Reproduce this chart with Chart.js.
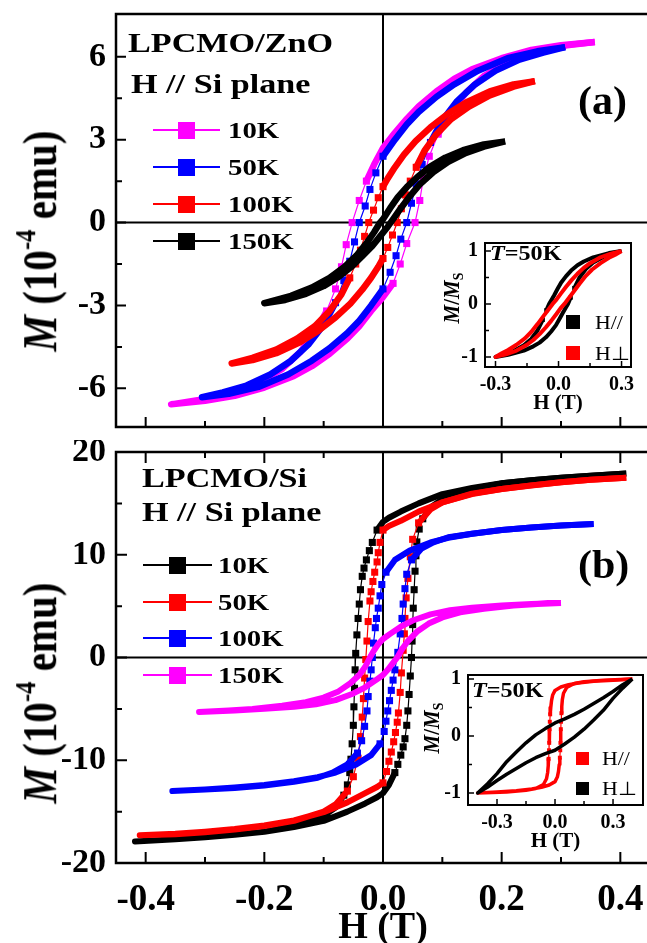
<!DOCTYPE html>
<html><head><meta charset="utf-8">
<script src="https://cdn.jsdelivr.net/npm/chart.js@4.4.0/dist/chart.umd.min.js"></script>
<style>
html,body{margin:0;padding:0;background:#fff;overflow:hidden;width:647px;height:943px;}
#wrap{position:relative;width:647px;height:943px;overflow:hidden;font-family:'Liberation Serif','Times New Roman',serif;}
canvas{position:absolute;}
.t{position:absolute;white-space:nowrap;color:#000;line-height:1;}
.ln{position:absolute;height:2px;}
.sq{position:absolute;}
</style></head><body><div id="wrap">
<canvas id="cA" width="660" height="440" style="left:0;top:0;width:660px;height:440px"></canvas>
<canvas id="cB" width="660" height="520" style="left:0;top:440px;width:660px;height:520px"></canvas>
<canvas id="cI1" width="210" height="190" style="left:430px;top:233px;width:210px;height:190px"></canvas>
<canvas id="cI2" width="240" height="198" style="left:410px;top:662px;width:240px;height:198px"></canvas>
</div>
<script>
// ---------- tick values ----------
const X_TICKS_MAIN = [-0.4,-0.3,-0.2,-0.1,0,0.1,0.2,0.3,0.4];
const X_LABELS_MAIN = [-0.4,-0.2,0,0.2,0.4];
const Y_TICKS_A = [-6,-4.5,-3,-1.5,0,1.5,3,4.5,6];
const Y_LABELS_A = [-6,-3,0,3,6];
const Y_TICKS_B = [-20,-15,-10,-5,0,5,10,15,20];
const Y_LABELS_B = [-20,-10,0,10,20];
const X_TICKS_INSET = [-0.3,-0.15,0,0.15,0.3];
const X_LABELS_INSET = [-0.3,0,0.3];
const Y_TICKS_INSET = [-1,-0.5,0,0.5,1];
const Y_LABELS_INSET = [-1,0,1];

// ---------- series names / colours ----------
const TEMPS_A = ['10K','50K','100K','150K'];
const COLORS_A = ['#ff00ff','#0000ff','#ff0000','#000000'];
const TEMPS_B = ['10K','50K','100K','150K'];
const COLORS_B = ['#000000','#ff0000','#0000ff','#ff00ff'];
const INSET_A_LABELS = ['H//','H\u22A5'];
const INSET_A_COLORS = ['#000000','#ff0000'];
const INSET_B_LABELS = ['H//','H\u22A5'];
const INSET_B_COLORS = ['#ff0000','#000000'];

// ---------- (a) LPCMO/ZnO : [H (T), M (1e-4 emu)] ----------
const ZNO_10K_DOWN = [[0.357,6.54],[0.30,6.42],[0.25,6.25],[0.20,5.95],[0.15,5.55],[0.12,5.2],[0.09,4.75],[0.06,4.2],[0.04,3.75],[0.02,3.25],[0.0,2.7],[-0.015,2.1],[-0.028,1.5],[-0.04,0.8],[-0.052,0],[-0.062,-0.8],[-0.07,-1.6],[-0.08,-2.4],[-0.095,-3.2],[-0.115,-4.0],[-0.14,-4.7],[-0.17,-5.3],[-0.21,-5.8],[-0.26,-6.2],[-0.31,-6.42],[-0.357,-6.58]];
const ZNO_10K_UP = [[-0.357,-6.58],[-0.30,-6.45],[-0.25,-6.27],[-0.20,-5.97],[-0.15,-5.55],[-0.12,-5.2],[-0.09,-4.75],[-0.06,-4.2],[-0.04,-3.75],[-0.02,-3.2],[0.0,-2.7],[0.017,-2.2],[0.029,-1.5],[0.04,-0.76],[0.054,0],[0.062,0.8],[0.068,1.6],[0.078,2.4],[0.093,3.2],[0.113,4.0],[0.14,4.7],[0.17,5.3],[0.21,5.8],[0.26,6.2],[0.31,6.42],[0.357,6.54]];
const ZNO_50K_DOWN = [[0.307,6.35],[0.26,6.2],[0.21,5.95],[0.16,5.5],[0.12,5.0],[0.09,4.55],[0.06,4.0],[0.04,3.55],[0.02,3.0],[0.0,2.4],[-0.012,1.8],[-0.022,1.2],[-0.03,0.6],[-0.04,0],[-0.048,-0.7],[-0.056,-1.4],[-0.066,-2.1],[-0.08,-2.9],[-0.1,-3.7],[-0.125,-4.4],[-0.155,-5.0],[-0.19,-5.5],[-0.23,-5.9],[-0.27,-6.15],[-0.305,-6.32]];
const ZNO_50K_UP = [[-0.305,-6.32],[-0.26,-6.2],[-0.21,-5.95],[-0.16,-5.5],[-0.12,-5.0],[-0.09,-4.55],[-0.06,-4.0],[-0.04,-3.55],[-0.02,-3.0],[0.0,-2.4],[0.012,-1.8],[0.022,-1.2],[0.03,-0.6],[0.04,0],[0.048,0.7],[0.056,1.4],[0.066,2.1],[0.08,2.9],[0.1,3.7],[0.125,4.4],[0.155,5.0],[0.19,5.5],[0.23,5.9],[0.27,6.15],[0.307,6.35]];
const ZNO_100K_DOWN = [[0.256,5.12],[0.22,5.0],[0.18,4.75],[0.14,4.35],[0.11,3.95],[0.08,3.45],[0.055,2.95],[0.035,2.45],[0.02,2.0],[0.008,1.6],[0.0,1.3],[-0.008,0.9],[-0.016,0.45],[-0.024,0],[-0.031,-0.5],[-0.038,-1.0],[-0.046,-1.5],[-0.056,-2.0],[-0.07,-2.6],[-0.09,-3.2],[-0.115,-3.75],[-0.145,-4.2],[-0.18,-4.6],[-0.22,-4.9],[-0.255,-5.1]];
const ZNO_100K_UP = [[-0.255,-5.1],[-0.22,-4.98],[-0.18,-4.73],[-0.14,-4.33],[-0.11,-3.93],[-0.08,-3.43],[-0.055,-2.93],[-0.035,-2.43],[-0.02,-2.0],[-0.008,-1.6],[0.0,-1.3],[0.008,-0.9],[0.016,-0.45],[0.024,0],[0.031,0.5],[0.038,1.0],[0.046,1.5],[0.056,2.0],[0.07,2.6],[0.09,3.2],[0.115,3.75],[0.145,4.2],[0.18,4.6],[0.22,4.92],[0.256,5.12]];
const ZNO_150K_DOWN = [[0.206,2.94],[0.17,2.83],[0.135,2.62],[0.105,2.35],[0.079,2.02],[0.058,1.65],[0.04,1.28],[0.025,0.92],[0.012,0.52],[0.0,0.12],[-0.005,0],[-0.015,-0.35],[-0.028,-0.75],[-0.045,-1.2],[-0.065,-1.6],[-0.09,-2.0],[-0.12,-2.35],[-0.155,-2.65],[-0.2,-2.92]];
const ZNO_150K_UP = [[-0.2,-2.92],[-0.165,-2.8],[-0.13,-2.58],[-0.1,-2.3],[-0.075,-1.97],[-0.053,-1.6],[-0.035,-1.22],[-0.018,-0.85],[-0.005,-0.5],[0.008,-0.15],[0.018,0.15],[0.03,0.52],[0.045,0.95],[0.062,1.38],[0.085,1.83],[0.11,2.2],[0.14,2.52],[0.17,2.75],[0.206,2.94]];

// ---------- (b) LPCMO/Si ----------
const SI_10K_DOWN = [[0.41,17.9],[0.35,17.7],[0.3,17.5],[0.25,17.25],[0.2,16.95],[0.15,16.5],[0.1,15.9],[0.06,15.0],[0.03,14.2],[0.01,13.6],[0,13.2],[-0.01,12.4],[-0.018,11.2],[-0.023,10.4],[-0.028,9.5],[-0.032,8.7],[-0.035,7.9],[-0.038,6.6],[-0.04,5.2],[-0.042,3.8],[-0.044,2.2],[-0.046,0.4],[-0.047,-1.2],[-0.048,-3.0],[-0.049,-4.8],[-0.05,-6.6],[-0.052,-8.4],[-0.054,-9.9],[-0.056,-11.2],[-0.06,-12.4],[-0.066,-13.4],[-0.08,-14.6],[-0.1,-15.4],[-0.15,-16.4],[-0.2,-16.95],[-0.25,-17.25],[-0.3,-17.5],[-0.35,-17.7],[-0.418,-17.9]];
const SI_10K_UP = [[-0.418,-17.9],[-0.35,-17.7],[-0.3,-17.5],[-0.25,-17.25],[-0.2,-16.95],[-0.15,-16.5],[-0.1,-15.9],[-0.06,-15.0],[-0.03,-14.2],[-0.01,-13.6],[0,-13.2],[0.01,-12.4],[0.02,-11.2],[0.025,-10.4],[0.03,-9.5],[0.034,-8.7],[0.037,-7.9],[0.04,-6.6],[0.042,-5.2],[0.044,-3.6],[0.046,-1.8],[0.048,0],[0.049,1.6],[0.05,3.2],[0.051,4.8],[0.0525,6.6],[0.054,8.4],[0.0555,9.9],[0.057,11.25],[0.061,12.5],[0.067,13.5],[0.08,14.6],[0.1,15.4],[0.15,16.4],[0.2,16.95],[0.25,17.25],[0.3,17.5],[0.35,17.7],[0.41,17.9]];
const SI_50K_DOWN = [[0.41,17.5],[0.35,17.3],[0.3,17.05],[0.25,16.75],[0.2,16.4],[0.15,15.9],[0.1,15.1],[0.06,14.2],[0.03,13.3],[0.01,12.8],[0,12.4],[-0.005,11.2],[-0.008,10.2],[-0.01,9.3],[-0.014,8.3],[-0.017,7.4],[-0.02,6.4],[-0.022,5.5],[-0.025,3.5],[-0.027,1.6],[-0.029,-0.2],[-0.031,-2.0],[-0.033,-4.0],[-0.035,-5.8],[-0.038,-7.7],[-0.042,-9.8],[-0.05,-11.6],[-0.06,-13.0],[-0.08,-14.3],[-0.1,-15.0],[-0.15,-15.9],[-0.2,-16.4],[-0.25,-16.75],[-0.3,-17.0],[-0.35,-17.2],[-0.41,-17.3]];
const SI_50K_UP = [[-0.41,-17.3],[-0.35,-17.15],[-0.3,-16.95],[-0.25,-16.7],[-0.2,-16.35],[-0.15,-15.85],[-0.1,-15.05],[-0.06,-14.1],[-0.03,-13.2],[-0.01,-12.6],[0,-12.2],[0.006,-11.1],[0.01,-10.1],[0.014,-9.2],[0.018,-8.2],[0.021,-7.3],[0.024,-6.3],[0.026,-5.4],[0.029,-3.4],[0.031,-1.5],[0.034,0.7],[0.036,2.3],[0.037,3.8],[0.039,5.8],[0.042,7.7],[0.046,9.8],[0.05,11.5],[0.06,13.1],[0.08,14.4],[0.1,15.1],[0.15,15.95],[0.2,16.4],[0.25,16.75],[0.3,17.05],[0.35,17.3],[0.41,17.5]];
const SI_100K_DOWN = [[0.355,13.0],[0.3,12.85],[0.25,12.65],[0.2,12.4],[0.15,12.05],[0.11,11.65],[0.08,11.2],[0.045,10.4],[0.02,9.5],[0.005,8.3],[-0.002,7.1],[-0.005,6.0],[-0.008,4.8],[-0.011,3.8],[-0.013,2.9],[-0.016,1.4],[-0.018,0],[-0.02,-1.2],[-0.022,-2.3],[-0.025,-3.8],[-0.027,-5.2],[-0.031,-6.7],[-0.036,-8.1],[-0.043,-9.3],[-0.06,-10.4],[-0.085,-11.2],[-0.11,-11.7],[-0.15,-12.1],[-0.2,-12.45],[-0.25,-12.7],[-0.3,-12.85],[-0.355,-13.0]];
const SI_100K_UP = [[-0.355,-13.0],[-0.3,-12.85],[-0.25,-12.65],[-0.2,-12.4],[-0.15,-12.05],[-0.11,-11.65],[-0.08,-11.2],[-0.045,-10.4],[-0.02,-9.5],[-0.005,-8.4],[0.002,-7.2],[0.005,-6.2],[0.008,-5.2],[0.011,-4.2],[0.014,-3.2],[0.017,-2.2],[0.02,-1.2],[0.025,0.5],[0.029,2.3],[0.032,3.8],[0.034,5.2],[0.037,6.7],[0.04,8.1],[0.048,9.5],[0.065,10.6],[0.085,11.2],[0.11,11.7],[0.15,12.05],[0.2,12.4],[0.25,12.65],[0.3,12.85],[0.355,13.0]];
const SI_150K_DOWN = [[0.3,5.3],[0.25,5.2],[0.2,5.05],[0.15,4.85],[0.113,4.6],[0.08,4.2],[0.05,3.6],[0.03,3.0],[0.012,2.3],[0,1.8],[-0.008,1.3],[-0.015,0.7],[-0.022,0],[-0.03,-0.9],[-0.04,-1.7],[-0.055,-2.5],[-0.075,-3.3],[-0.1,-3.9],[-0.13,-4.35],[-0.17,-4.7],[-0.22,-5.0],[-0.26,-5.15],[-0.31,-5.3]];
const SI_150K_UP = [[-0.31,-5.3],[-0.25,-5.15],[-0.2,-5.0],[-0.15,-4.8],[-0.113,-4.55],[-0.08,-4.15],[-0.05,-3.5],[-0.03,-2.9],[-0.012,-2.2],[0,-1.7],[0.008,-1.2],[0.016,-0.6],[0.024,0],[0.032,0.8],[0.042,1.6],[0.057,2.5],[0.077,3.3],[0.1,3.9],[0.13,4.4],[0.17,4.75],[0.22,5.05],[0.26,5.2],[0.3,5.3]];

// ---------- insets, T = 50K, M/Ms ----------
const INA_PAR_DOWN = [[0.3,1.0],[0.24,0.96],[0.165,0.88],[0.12,0.8],[0.09,0.73],[0.06,0.63],[0.035,0.52],[0.012,0.4],[-0.005,0.28],[-0.02,0.17],[-0.033,0.08],[-0.045,0.0],[-0.058,-0.12],[-0.075,-0.3],[-0.1,-0.5],[-0.13,-0.66],[-0.165,-0.78],[-0.22,-0.9],[-0.3,-1.0]];
const INA_PAR_UP = [[-0.3,-1.0],[-0.24,-0.96],[-0.165,-0.88],[-0.12,-0.8],[-0.09,-0.73],[-0.06,-0.63],[-0.035,-0.52],[-0.012,-0.4],[0.005,-0.28],[0.02,-0.17],[0.033,-0.08],[0.045,0.0],[0.058,0.12],[0.075,0.3],[0.1,0.5],[0.13,0.66],[0.165,0.78],[0.22,0.9],[0.3,1.0]];
const INA_PERP_DOWN = [[0.3,1.0],[0.25,0.95],[0.2,0.88],[0.15,0.77],[0.12,0.68],[0.09,0.57],[0.06,0.44],[0.035,0.32],[0.01,0.19],[-0.01,0.08],[-0.028,0.0],[-0.045,-0.09],[-0.07,-0.22],[-0.1,-0.38],[-0.13,-0.53],[-0.16,-0.65],[-0.2,-0.77],[-0.24,-0.87],[-0.27,-0.93],[-0.3,-1.0]];
const INA_PERP_UP = [[-0.3,-1.0],[-0.25,-0.95],[-0.2,-0.88],[-0.15,-0.77],[-0.12,-0.68],[-0.09,-0.57],[-0.06,-0.44],[-0.035,-0.32],[-0.01,-0.19],[0.01,-0.08],[0.028,0.0],[0.045,0.09],[0.07,0.22],[0.1,0.38],[0.13,0.53],[0.16,0.65],[0.2,0.77],[0.24,0.87],[0.27,0.93],[0.3,1.0]];
const INB_PAR_DOWN = [[0.4,1.0],[0.3,0.98],[0.2,0.96],[0.12,0.93],[0.07,0.9],[0.03,0.86],[0.0,0.8],[-0.012,0.72],[-0.018,0.62],[-0.022,0.5],[-0.025,0.38],[-0.027,0.25],[-0.028,0.12],[-0.029,0.0],[-0.03,-0.12],[-0.031,-0.25],[-0.033,-0.4],[-0.035,-0.52],[-0.038,-0.64],[-0.044,-0.75],[-0.06,-0.85],[-0.1,-0.92],[-0.15,-0.95],[-0.25,-0.98],[-0.4,-1.0]];
const INB_PAR_UP = [[-0.4,-1.0],[-0.3,-0.98],[-0.2,-0.96],[-0.12,-0.93],[-0.07,-0.9],[-0.03,-0.86],[0.0,-0.8],[0.012,-0.72],[0.018,-0.62],[0.022,-0.5],[0.025,-0.38],[0.027,-0.25],[0.028,-0.12],[0.029,0.0],[0.03,0.12],[0.031,0.25],[0.033,0.4],[0.035,0.52],[0.038,0.64],[0.044,0.75],[0.06,0.85],[0.1,0.92],[0.15,0.95],[0.25,0.98],[0.4,1.0]];
const INB_PERP_DOWN = [[0.4,1.0],[0.35,0.9],[0.3,0.78],[0.25,0.67],[0.2,0.57],[0.15,0.47],[0.1,0.38],[0.05,0.3],[0,0.23],[-0.05,0.13],[-0.1,0.02],[-0.15,-0.12],[-0.2,-0.28],[-0.25,-0.45],[-0.3,-0.66],[-0.35,-0.84],[-0.4,-1.0]];
const INB_PERP_UP = [[-0.4,-1.0],[-0.35,-0.9],[-0.3,-0.78],[-0.25,-0.67],[-0.2,-0.57],[-0.15,-0.47],[-0.1,-0.38],[-0.05,-0.31],[0,-0.25],[0.05,-0.14],[0.1,-0.02],[0.15,0.12],[0.2,0.28],[0.25,0.45],[0.3,0.66],[0.35,0.84],[0.4,1.0]];

// ---------- helpers ----------
const FAM = "'Liberation Serif','Times New Roman',serif";
const has = (arr, v) => arr.some(a => Math.abs(a - v) < 1e-9);
const fmt1 = v => (Math.abs(v) < 1e-9 ? 0 : v).toFixed(1);
function isSteep(a, b) { const dx = Math.abs(b.x - a.x), dy = Math.abs(b.y - a.y); return dy > 2.2 * dx && dy > 7; }
function steepRadius(r) {
  return c => {
    if (c.dataIndex === undefined) return 0;
    const ch = c.chart, d = c.dataset.data, i = c.dataIndex, sx = ch.scales.x, sy = ch.scales.y;
    if (!sx || !sy) return 0;
    const P = k => ({ x: sx.getPixelForValue(d[k].x), y: sy.getPixelForValue(d[k].y) });
    const p = P(i);
    if (i > 0 && isSteep(P(i - 1), p)) return r;
    if (i < d.length - 1 && isSteep(p, P(i + 1))) return r;
    return 0;
  };
}
function loopDS(label, down, up, color, order, w, r) {
  return {
    label, showLine: true, order,
    data: down.concat(up).map(p => ({ x: p[0], y: p[1] })),
    borderColor: color, backgroundColor: color, pointBackgroundColor: color,
    borderWidth: w, pointStyle: 'rect', pointBorderWidth: 0,
    pointRadius: steepRadius(r), pointHoverRadius: 0, tension: 0,
    borderJoinStyle: 'round', borderCapStyle: 'butt',
    segment: { borderWidth: c => isSteep(c.p0, c.p1) ? 1.2 : w }
  };
}
const framePlugin = {
  id: 'frame',
  beforeDatasetsDraw(chart, _a, o) {
    if (!o.zero) return;
    const { ctx, chartArea: a } = chart, sx = chart.scales.x, sy = chart.scales.y;
    const x0 = sx.getPixelForValue(0), y0 = sy.getPixelForValue(0);
    ctx.save(); ctx.strokeStyle = '#000'; ctx.lineWidth = o.zero;
    ctx.beginPath(); ctx.moveTo(a.left, y0); ctx.lineTo(a.right, y0);
    ctx.moveTo(x0, a.top); ctx.lineTo(x0, a.bottom); ctx.stroke(); ctx.restore();
  },
  afterDatasetsDraw(chart, _a, o) {
    const { ctx, chartArea: a } = chart, sx = chart.scales.x, sy = chart.scales.y;
    ctx.save(); ctx.strokeStyle = '#000'; ctx.lineWidth = o.tickW; ctx.beginPath();
    sx.ticks.forEach(t => {
      const p = sx.getPixelForValue(t.value), L = has(o.xMajor, t.value) ? o.major : o.minor;
      ctx.moveTo(p, a.bottom); ctx.lineTo(p, a.bottom - L);
      if (o.top) { ctx.moveTo(p, a.top); ctx.lineTo(p, a.top + L); }
    });
    sy.ticks.forEach(t => {
      const p = sy.getPixelForValue(t.value), L = has(o.yMajor, t.value) ? o.major : o.minor;
      ctx.moveTo(a.left, p); ctx.lineTo(a.left + L, p);
    });
    ctx.stroke();
    ctx.lineWidth = o.frame;
    ctx.strokeRect(a.left, a.top, a.right - a.left, a.bottom - a.top);
    ctx.restore();
  }
};
function makeChart(id, datasets, c) {
  return new Chart(document.getElementById(id), {
    type: 'scatter',
    data: { datasets },
    options: {
      responsive: false, animation: false, events: [], devicePixelRatio: 1,
      layout: { padding: c.pad },
      plugins: { legend: { display: false }, tooltip: { enabled: false },
        frame: { zero: c.zero, top: c.topTicks, major: c.major, minor: c.minor, tickW: c.tickW, frame: c.frameW, xMajor: c.xLabels, yMajor: c.yLabels } },
      scales: {
        x: {
          type: 'linear', min: c.xmin, max: c.xmax,
          afterBuildTicks: s => { s.ticks = c.xTicks.map(v => ({ value: v })); },
          afterFit: s => { s.height = c.xh; s.paddingLeft = 0; s.paddingRight = 0; },
          grid: { display: false, drawTicks: false }, border: { display: false },
          ticks: { display: c.showX, autoSkip: false, maxRotation: 0, minRotation: 0, padding: c.xPad, color: '#000',
            font: { family: FAM, size: c.xFs, weight: 'bold' },
            callback: v => has(c.xLabels, v) ? fmt1(v) : '' },
          title: { display: !!c.xTitle, text: c.xTitle || '', color: '#000',
            font: { family: FAM, size: c.xtFs, weight: 'bold' }, padding: c.xtPad }
        },
        y: {
          type: 'linear', min: c.ymin, max: c.ymax,
          afterBuildTicks: s => { s.ticks = c.yTicks.map(v => ({ value: v })); },
          afterFit: s => { s.width = c.yw; s.paddingTop = 0; s.paddingBottom = 0; },
          grid: { display: false, drawTicks: false }, border: { display: false },
          ticks: { autoSkip: false, padding: c.yPad, color: '#000',
            font: { family: FAM, size: c.yFs, weight: 'bold' },
            callback: v => has(c.yLabels, v) ? String(v) : '' }
        }
      }
    },
    plugins: [framePlugin]
  });
}

// ---------- charts ----------
makeChart('cA', [
  loopDS(TEMPS_A[0], ZNO_10K_DOWN, ZNO_10K_UP, COLORS_A[0], 4, 6.5, 5),
  loopDS(TEMPS_A[1], ZNO_50K_DOWN, ZNO_50K_UP, COLORS_A[1], 3, 6.5, 5),
  loopDS(TEMPS_A[2], ZNO_100K_DOWN, ZNO_100K_UP, COLORS_A[2], 2, 6.5, 5),
  loopDS(TEMPS_A[3], ZNO_150K_DOWN, ZNO_150K_UP, COLORS_A[3], 1, 6.5, 5)
], {
  pad: { left: 0, top: 14, right: 10, bottom: 0 }, xh: 13, yw: 116,
  xmin: -0.45, xmax: 0.45, ymin: -7.4, ymax: 7.55,
  xTicks: X_TICKS_MAIN, xLabels: X_LABELS_MAIN, yTicks: Y_TICKS_A, yLabels: Y_LABELS_A,
  showX: false, xPad: 0, xFs: 36, yPad: 10, yFs: 34,
  zero: 2, topTicks: false, major: 10, minor: 6, tickW: 2, frameW: 2.5
});
makeChart('cB', [
  loopDS(TEMPS_B[0], SI_10K_DOWN, SI_10K_UP, COLORS_B[0], 4, 6, 5),
  loopDS(TEMPS_B[1], SI_50K_DOWN, SI_50K_UP, COLORS_B[1], 3, 6, 5),
  loopDS(TEMPS_B[2], SI_100K_DOWN, SI_100K_UP, COLORS_B[2], 2, 6, 5),
  loopDS(TEMPS_B[3], SI_150K_DOWN, SI_150K_UP, COLORS_B[3], 1, 6, 5)
], {
  pad: { left: 0, top: 12, right: 10, bottom: 0 }, xh: 97, yw: 116,
  xmin: -0.45, xmax: 0.45, ymin: -20, ymax: 20,
  xTicks: X_TICKS_MAIN, xLabels: X_LABELS_MAIN, yTicks: Y_TICKS_B, yLabels: Y_LABELS_B,
  showX: true, xPad: 15, xFs: 37, yPad: 10, yFs: 34,
  xTitle: 'H (T)', xtFs: 38, xtPad: { top: 0, bottom: 9 },
  zero: 2, topTicks: true, major: 11, minor: 6, tickW: 2, frameW: 2.5
});
makeChart('cI1', [
  loopDS(INSET_A_LABELS[0], INA_PAR_DOWN, INA_PAR_UP, INSET_A_COLORS[0], 2, 4, 3),
  loopDS(INSET_A_LABELS[1], INA_PERP_DOWN, INA_PERP_UP, INSET_A_COLORS[1], 1, 4, 3)
], {
  pad: { left: 0, top: 10, right: 9, bottom: 0 }, xh: 56, yw: 55,
  xmin: -0.35, xmax: 0.345, ymin: -1.19, ymax: 1.15,
  xTicks: X_TICKS_INSET, xLabels: X_LABELS_INSET, yTicks: Y_TICKS_INSET, yLabels: Y_LABELS_INSET,
  showX: true, xPad: 6, xFs: 20, yPad: 7, yFs: 20,
  xTitle: 'H (T)', xtFs: 21, xtPad: { top: 0, bottom: 7 },
  zero: 0, topTicks: false, major: 6, minor: 4, tickW: 1.5, frameW: 2
});
makeChart('cI2', [
  loopDS(INSET_B_LABELS[0], INB_PAR_DOWN, INB_PAR_UP, INSET_B_COLORS[0], 2, 3.5, 2.8),
  loopDS(INSET_B_LABELS[1], INB_PERP_DOWN, INB_PERP_UP, INSET_B_COLORS[1], 1, 3.5, 2.8)
], {
  pad: { left: 0, top: 13, right: 7, bottom: 0 }, xh: 55, yw: 58,
  xmin: -0.45, xmax: 0.455, ymin: -1.21, ymax: 1.07,
  xTicks: X_TICKS_INSET, xLabels: X_LABELS_INSET, yTicks: Y_TICKS_INSET, yLabels: Y_LABELS_INSET,
  showX: true, xPad: 6, xFs: 20, yPad: 7, yFs: 20,
  xTitle: 'H (T)', xtFs: 21, xtPad: { top: 0, bottom: 6 },
  zero: 0, topTicks: false, major: 6, minor: 4, tickW: 1.5, frameW: 2
});

// ---------- text overlays ----------
const wrap = document.getElementById('wrap');
function txt(html, x, y, fs, sx, normal) {
  const d = document.createElement('div'); d.className = 't'; d.innerHTML = html;
  d.style.left = x + 'px'; d.style.top = y + 'px'; d.style.fontSize = fs + 'px';
  d.style.fontWeight = normal ? 'normal' : 'bold';
  d.style.transformOrigin = '0 0';
  d.style.transform = 'scaleX(' + (sx || 1) + ') translateY(-50%)';
  wrap.appendChild(d); return d;
}
function vtxt(html, cx, cy, fs, sy) {
  const d = document.createElement('div'); d.className = 't'; d.innerHTML = html;
  d.style.left = cx + 'px'; d.style.top = cy + 'px'; d.style.fontSize = fs + 'px'; d.style.fontWeight = 'bold';
  d.style.transform = 'translate(-50%,-50%) rotate(-90deg) scaleY(' + sy + ')';
  wrap.appendChild(d); return d;
}
function box(cls, x, y, w, h, color) {
  const d = document.createElement('div'); d.className = cls;
  d.style.left = x + 'px'; d.style.top = y + 'px'; d.style.width = w + 'px'; d.style.height = h + 'px';
  d.style.background = color; wrap.appendChild(d);
}
function legend(names, colors, x1, x2, sqc, tx, ys, sqs, fs) {
  names.forEach((n, i) => {
    box('ln', x1, ys[i] - 1, x2 - x1, 2, colors[i]);
    box('sq', sqc - sqs / 2, ys[i] - sqs / 2, sqs, sqs, colors[i]);
    txt(n, tx, ys[i], fs, 1.25);
  });
}
function insetLegend(names, colors, sqc, tx, ys, sqs, fs) {
  names.forEach((n, i) => {
    box('sq', sqc - sqs / 2, ys[i] - sqs / 2, sqs, sqs, colors[i]);
    txt(n, tx, ys[i], fs, 1.15, true);
  });
}
const YT = '<i>M</i> (10<sup style="font-size:0.6em;vertical-align:0.7em;line-height:0">-4</sup> emu)';
const INS_YT = '<i>M</i>/<i>M</i><sub style="font-size:0.65em;vertical-align:-0.25em;line-height:0">S</sub>';

// panel (a)
txt('LPCMO/ZnO', 128, 43, 28, 1.22);
txt('H // Si plane', 131, 84, 28, 1.22);
txt('(a)', 578, 101, 40, 1.05);
legend(TEMPS_A, COLORS_A, 153, 220, 186, 228, [130, 167, 204, 241], 17, 23);
vtxt(YT, 40, 241, 41, 1.2);
// panel (b)
txt('LPCMO/Si', 142, 478, 28, 1.22);
txt('H // Si plane', 142, 512, 28, 1.22);
txt('(b)', 578, 565, 40, 1.05);
legend(TEMPS_B, COLORS_B, 143, 212, 177, 218, [565, 602, 638, 675], 17, 23);
vtxt(YT, 40, 693, 41, 1.2);
// inset (a)
txt('<i>T</i>=50K', 490, 253, 21, 1.15);
insetLegend(INSET_A_LABELS, INSET_A_COLORS, 573, 595, [322, 353], 14, 19);
vtxt(INS_YT, 452, 298, 21, 1.1);
// inset (b)
txt('<i>T</i>=50K', 472, 690, 21, 1.15);
insetLegend(INSET_B_LABELS, INSET_B_COLORS, 582, 602, [758, 788], 13, 19);
vtxt(INS_YT, 432, 728, 21, 1.1);
</script>
</body></html>
